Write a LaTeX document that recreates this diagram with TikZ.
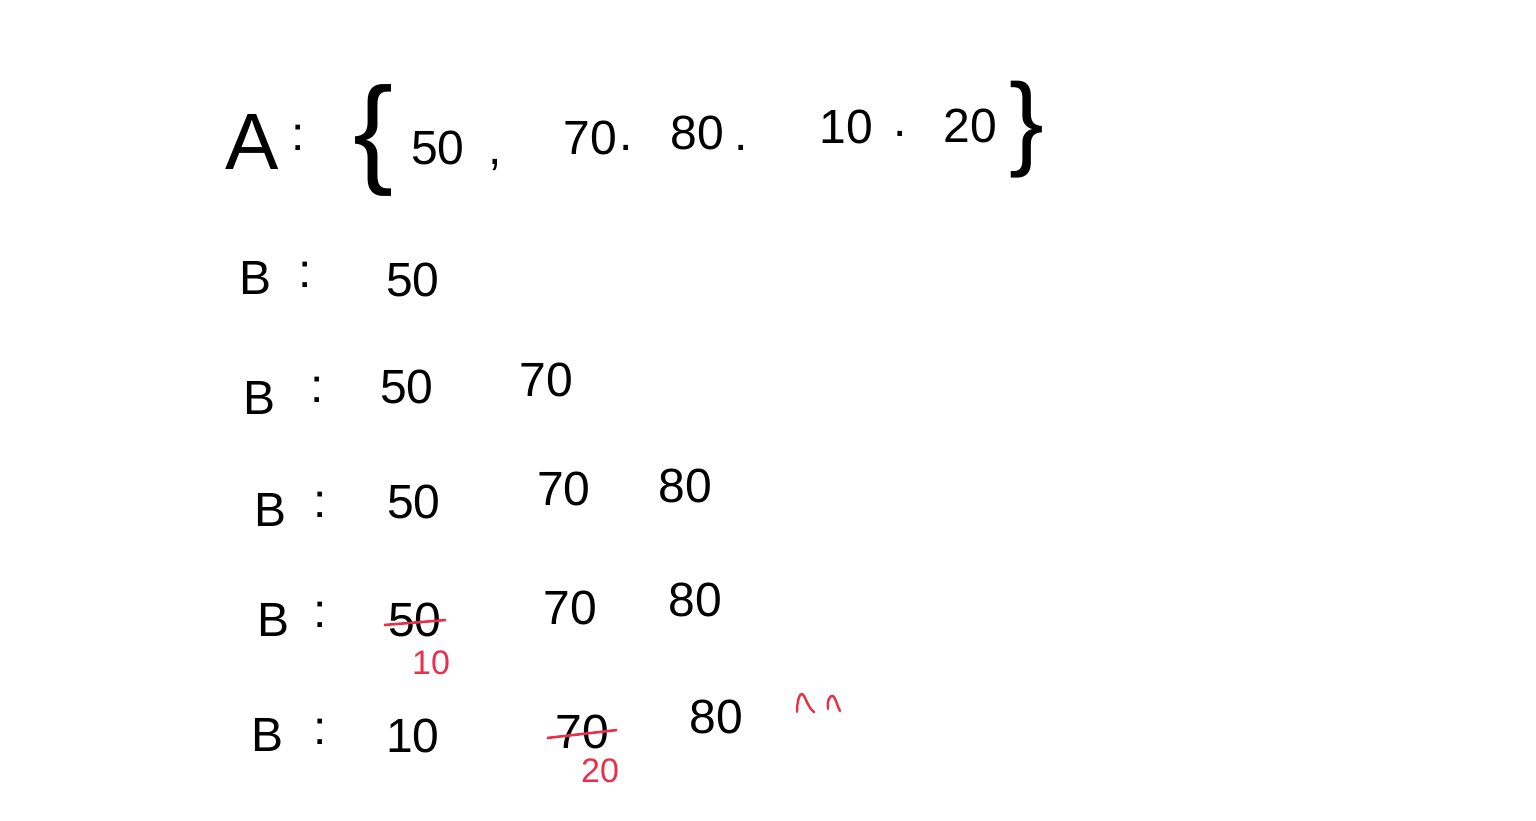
\documentclass[tikz,border=0pt]{standalone}
\usepackage{fontspec}
\setmainfont{Liberation Sans}
\definecolor{inkred}{RGB}{232,48,72}
\begin{document}
\begin{tikzpicture}[x=0.5pt,y=-0.5pt,
  txt/.style={inner sep=0pt,font=\fontsize{24}{28}\selectfont},
  big/.style={inner sep=0pt,font=\fontsize{40}{44}\selectfont},
  red/.style={inner sep=0pt,text=inkred,font=\fontsize{17}{20}\selectfont},
  strike/.style={draw=inkred,line width=1.3pt}]
\useasboundingbox (0,0) rectangle (1536,820);
% Row A
\node[big] (a) at (252,142) {A};
\node[txt] (ac) at (298,138) {:};
\node[inner sep=0pt,font=\fontsize{60}{64}\selectfont] (lb) at (374,140) {\{};
\node[txt] (a1) at (438,148) {50};
\node[txt] (k1) at (495,165) {,};
\node[txt] (a2) at (590,138) {70};
\node[txt] (k2) at (626,148) {.};
\node[txt] (a3) at (697,133) {80};
\node[txt] (k3) at (741,148) {.};
\node[txt] (a4) at (846,127) {10};
\node[txt] (k4) at (900,134) {.};
\node[txt] (a5) at (970,126) {20};
\node[inner sep=0pt,font=\fontsize{52}{56}\selectfont] (rb) at (1027,130) {\}};
% Row 1
\node[txt] (b1) at (256,278) {B};
\node[txt] (c1) at (305,275) {:};
\node[txt] (r1a) at (413,280) {50};
% Row 2
\node[txt] (b2) at (260,398) {B};
\node[txt] (c2) at (317,390) {:};
\node[txt] (r2a) at (407,387) {50};
\node[txt] (r2b) at (546,380) {70};
% Row 3
\node[txt] (b3) at (271,510) {B};
\node[txt] (c3) at (320,505) {:};
\node[txt] (r3a) at (414,502) {50};
\node[txt] (r3b) at (564,489) {70};
\node[txt] (r3c) at (685,486) {80};
% Row 4
\node[txt] (b4) at (274,620) {B};
\node[txt] (c4) at (320,615) {:};
\node[txt] (r4a) at (415,620) {50};
\node[txt] (r4b) at (570,608) {70};
\node[txt] (r4c) at (695,600) {80};
\draw[strike] ([xshift=-2pt]r4a.west |- 0,625) -- ([xshift=2pt]r4a.east |- 0,620);
\node[red] (r4n) at (431,663) {10};
% Row 5
\node[txt] (b5) at (268,735) {B};
\node[txt] (c5) at (320,732) {:};
\node[txt] (r5a) at (413,736) {10};
\node[txt] (r5b) at (582,732) {70};
\node[txt] (r5c) at (716,717) {80};
\draw[strike] ([xshift=-4pt]r5b.west |- 0,738) -- ([xshift=4pt]r5b.east |- 0,730);
\node[red] (r5n) at (600,771) {20};
% smile marks
\draw[inkred,line width=1.2pt,line cap=round] (797,712) .. controls (797,700) and (800,693) .. (802,694) .. controls (805,695) and (808,708) .. (814,712);
\draw[inkred,line width=1.2pt,line cap=round] (828,709) .. controls (827,700) and (830,695) .. (833,696) .. controls (836,698) and (837,706) .. (840,711);
\end{tikzpicture}
\end{document}
